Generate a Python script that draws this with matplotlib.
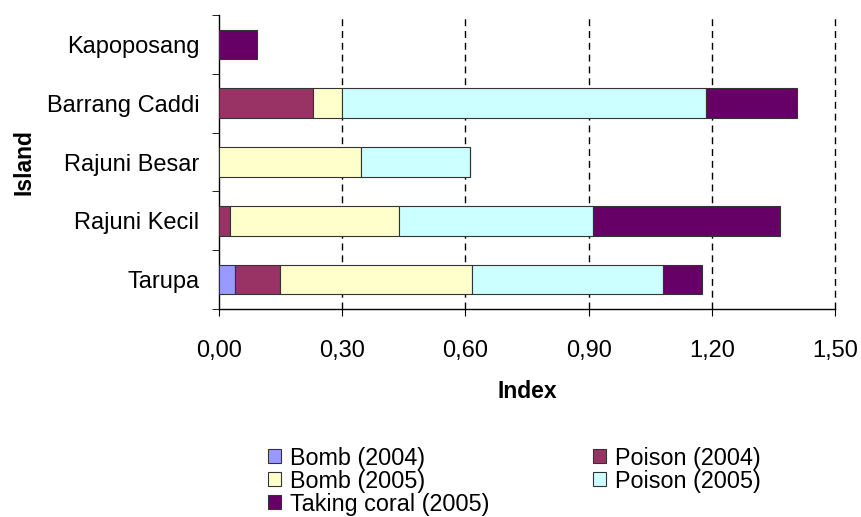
import matplotlib.pyplot as plt
import numpy as np

plt.rcParams['font.family'] = ['Liberation Sans', 'DejaVu Sans']

islands = ['Tarupa', 'Rajuni Kecil', 'Rajuni Besar', 'Barrang Caddi', 'Kapoposang']
bomb_2004 = [0.039, 0.0, 0.0, 0.0, 0.0]
poison_2004 = [0.110, 0.028, 0.0, 0.230, 0.0]
bomb_2005 = [0.467, 0.411, 0.346, 0.070, 0.0]
poison_2005 = [0.466, 0.471, 0.266, 0.886, 0.0]
taking_coral_2005 = [0.095, 0.456, 0.0, 0.222, 0.093]

series = [
    ('Bomb (2004)', bomb_2004, '#9999FF'),
    ('Poison (2004)', poison_2004, '#993366'),
    ('Bomb (2005)', bomb_2005, '#FFFFCC'),
    ('Poison (2005)', poison_2005, '#CCFFFF'),
    ('Taking coral (2005)', taking_coral_2005, '#660066'),
]

fig = plt.figure(figsize=(8.61, 5.17), dpi=100)
ax = fig.add_axes([219 / 861, 1 - 309 / 517, 616 / 861, 294 / 517])

y = np.arange(len(islands))
left = np.zeros(len(islands))
handles = {}
for name, vals, col in series:
    vals = np.array(vals)
    b = ax.barh(y, vals, left=left, height=0.5, color=col,
                edgecolor='#333333', linewidth=0.8, label=name, zorder=3)
    handles[name] = b
    left += vals

ax.set_xlim(0, 1.5)
ax.set_ylim(-0.5, len(islands) - 0.5)
xt = [0, 0.3, 0.6, 0.9, 1.2, 1.5]
ax.set_xticks(xt)
ax.set_xticklabels([f'{v:.2f}'.replace('.', ',') for v in xt], fontsize=17)
for v in xt[1:]:
    ax.axvline(v, color='black', linestyle=(0, (5, 3.5)), linewidth=1,
               zorder=1, clip_on=False)

ax.set_yticks(y)
ax.set_yticklabels(islands, fontsize=17)
ax.set_yticks(np.arange(-0.5, len(islands), 1), minor=True)
ax.tick_params(axis='y', which='major', length=0, pad=14)
ax.tick_params(axis='y', which='minor', length=5, direction='out')
ax.tick_params(axis='x', length=5, direction='out', pad=17)

for s in ['top', 'right']:
    ax.spines[s].set_visible(False)
ax.spines['left'].set_linewidth(1)
ax.spines['bottom'].set_linewidth(1)

ax.set_xlabel('Index', fontsize=16.5, fontweight='bold', labelpad=13)
ax.set_ylabel('Island', fontsize=16.5, fontweight='bold', labelpad=8.5)

order = ['Bomb (2004)', 'Bomb (2005)', 'Taking coral (2005)',
         'Poison (2004)', 'Poison (2005)']
fig.legend([handles[n] for n in order], order, ncol=2, loc='upper left',
           bbox_to_anchor=(256 / 861, 1 - 435 / 517), frameon=False,
           fontsize=16.8, handlelength=0.55, handleheight=0.55,
           handletextpad=0.4, columnspacing=4.43, labelspacing=0.0,
           borderpad=0)

fig.savefig('out.png', dpi=100)
